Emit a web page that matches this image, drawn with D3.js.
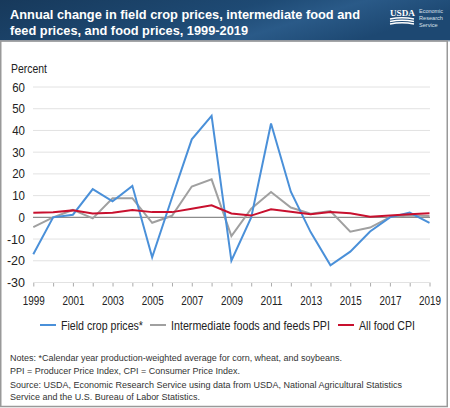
<!DOCTYPE html>
<html><head><meta charset="utf-8">
<script src="https://cdn.jsdelivr.net/npm/d3@7"></script>
<style>body{margin:0;background:#fff;}svg{display:block;font-family:"Liberation Sans",Arial,sans-serif;}</style>
</head><body>
<script>
const years = d3.range(1999, 2020);
const fieldCrop = [-17.0, 0.0, 1.2, 13.0, 7.4, 14.5, -18.4, 9.0, 35.9, 46.7, -20.0, 0.0, 43.2, 11.8, -6.8, -22.1, -15.8, -6.5, 0.0, 2.2, -2.5];
const ppi = [-4.5, 0.0, 3.4, -0.5, 8.8, 8.8, -2.5, 0.7, 14.2, 17.5, -8.6, 4.0, 11.7, 4.5, 1.7, 2.9, -6.6, -4.7, 0.1, 0.8, 0.6];
const cpi = [2.1, 2.3, 3.2, 1.8, 2.1, 3.4, 2.4, 2.4, 4.0, 5.5, 1.8, 0.8, 3.7, 2.6, 1.4, 2.4, 1.9, 0.3, 0.9, 1.4, 1.9];
const yTicks = [-30, -20, -10, 0, 10, 20, 30, 40, 50, 60];
const xTicks = [1999, 2001, 2003, 2005, 2007, 2009, 2011, 2013, 2015, 2017, 2019];
const seriesNames = ["Field crop prices*", "Intermediate foods and feeds PPI", "All food CPI"];
const seriesColors = ["#4a90d9", "#a0a0a0", "#c8102e"];
const titleLines = ["Annual change in field crop prices, intermediate food and", "feed prices, and food prices, 1999-2019"];
const notes = ["Notes: *Calendar year production-weighted average for corn, wheat, and soybeans.",
  "PPI = Producer Price Index, CPI = Consumer Price Index.",
  "Source: USDA, Economic Research Service using data from USDA, National Agricultural Statistics",
  "Service and the U.S. Bureau of Labor Statistics."];

const W = 450, H = 408;
const svg = d3.select("body").append("svg").attr("width", W).attr("height", H);

function fit(sel, w) {
  sel.each(function () {
    const L = this.getComputedTextLength();
    if (L > w) d3.select(this).attr("textLength", w).attr("lengthAdjust", "spacingAndGlyphs");
  });
  return sel;
}
function fitSize(sel, w) {
  sel.each(function () {
    const L = this.getComputedTextLength();
    const fs = parseFloat(d3.select(this).attr("font-size"));
    if (L > w) d3.select(this).attr("font-size", fs * w / L);
  });
  return sel;
}

// header
const defs = svg.append("defs");
const g1 = defs.append("linearGradient").attr("id", "hdr").attr("x1", "0").attr("x2", "1").attr("y1", "0").attr("y2", "0.3");
g1.append("stop").attr("offset", "0").attr("stop-color", "#17395b");
g1.append("stop").attr("offset", "0.55").attr("stop-color", "#1e4a74");
g1.append("stop").attr("offset", "0.75").attr("stop-color", "#2a5a88");
g1.append("stop").attr("offset", "1").attr("stop-color", "#1d4872");
svg.append("rect").attr("x", 0).attr("y", 0).attr("width", W).attr("height", 41).attr("fill", "url(#hdr)");
svg.append("rect").attr("x", 0).attr("y", 40).attr("width", W).attr("height", 1.5).attr("fill", "#8a9bb0");
const tw = [350, 238];
titleLines.forEach((t, i) => {
  const el = svg.append("text").attr("x", 10).attr("y", 19 + i * 16).attr("fill", "#fff")
    .attr("font-size", 14.5).attr("font-weight", "bold").text(t);
  fitSize(el, tw[i] * 1.06);
  fit(el, tw[i]);
});
// logo
fitSize(svg.append("text").attr("x", 390).attr("y", 16).attr("fill", "#fff").attr("font-family", "Liberation Serif, serif")
  .attr("font-size", 11).attr("font-weight", "bold").text("USDA"), 25);
[0, 2.5, 5].forEach(d => {
  svg.append("path").attr("d", `M390,${19 + d} Q402,${16.5 + d} 414,${19 + d}`).attr("stroke", "#fff").attr("stroke-width", 1.4).attr("fill", "none");
});
["Economic", "Research", "Service"].forEach((t, i) => {
  fitSize(svg.append("text").attr("x", 419).attr("y", 13 + i * 7).attr("fill", "#d8e0ea").attr("font-size", 5.6).text(t), 24);
});

// frame
svg.append("rect").attr("x", 0.75).attr("y", 41).attr("width", W - 3.5).attr("height", H - 42.5)
  .attr("fill", "none").attr("stroke", "#999").attr("stroke-width", 1.5);

const x = d3.scaleLinear().domain([1999, 2019]).range([33.3, 429.5]);
const y = d3.scaleLinear().domain([-30, 60]).range([282.5, 87]);

// grid
svg.append("g").selectAll("line").data(yTicks.filter(v => v !== 0 && v !== -30)).join("line")
  .attr("x1", 33).attr("x2", 430).attr("y1", d => y(d)).attr("y2", d => y(d))
  .attr("stroke", "#e2e2e2").attr("stroke-width", 1);

// y labels
const yl = svg.append("g").selectAll("text").data(yTicks).join("text")
  .attr("x", 25).attr("y", d => y(d) + 4.5).attr("text-anchor", "end")
  .attr("font-size", 12.5).attr("fill", "#222").text(d => d);
yl.each(function (d) { fit(d3.select(this), String(d).length * 6.4); });
fit(svg.append("text").attr("x", 11).attr("y", 73).attr("font-size", 12.5).attr("fill", "#222").text("Percent"), 36);

// x axis at -30
const xAxis = d3.axisBottom(x).tickValues(years).tickSize(4).tickFormat(d => xTicks.includes(d) ? d : "");
const xg = svg.append("g").attr("transform", `translate(0,${y(-30)})`).call(xAxis);
xg.select(".domain").remove();
xg.selectAll(".tick line").attr("stroke", "#aaa");
xg.selectAll(".tick text").attr("font-size", 12.5).attr("fill", "#222").attr("dy", "1.25em").attr("font-family", "Liberation Sans, Arial, sans-serif");
xg.selectAll(".tick text").each(function () { fit(d3.select(this), 22); });
svg.append("line").attr("x1", 33).attr("x2", 430).attr("y1", y(-30)).attr("y2", y(-30)).attr("stroke", "#e2e2e2");

// zero line
svg.append("line").attr("x1", 33).attr("x2", 430).attr("y1", y(0)).attr("y2", y(0)).attr("stroke", "#8c8c8c").attr("stroke-width", 1.2);

const line = d3.line().x((d, i) => x(years[i])).y(d => y(d));
[ppi, fieldCrop, cpi].forEach((s, k) => {
  const idx = [1, 0, 2][k];
  svg.append("path").attr("d", line(s)).attr("fill", "none")
    .attr("stroke", seriesColors[idx]).attr("stroke-width", 2).attr("stroke-linejoin", "miter");
});

// legend
const legX = [40, 150, 338];
const legW = [82, 159, 56];
seriesNames.forEach((n, i) => {
  svg.append("line").attr("x1", legX[i]).attr("x2", legX[i] + 16).attr("y1", 325).attr("y2", 325)
    .attr("stroke", seriesColors[i]).attr("stroke-width", 2);
  fit(svg.append("text").attr("x", legX[i] + 21).attr("y", 329.5).attr("font-size", 12.5).attr("fill", "#222").text(n), legW[i]);
});

// notes
const nw = [332, 230, 392, 190];
notes.forEach((t, i) => {
  const el = svg.append("text").attr("x", 10).attr("y", [361, 374, 387.5, 400][i]).attr("font-size", 10.3).attr("fill", "#333").text(t);
  fitSize(el, nw[i] * 1.06);
  fit(el, nw[i]);
});
</script>
</body></html>
